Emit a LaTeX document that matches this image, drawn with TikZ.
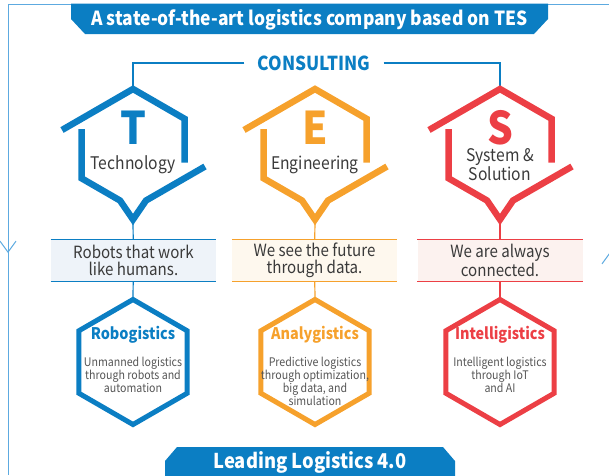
\documentclass[tikz,border=0pt]{standalone}
\usepackage{fontspec}
\setmainfont{Noto Sans CJK KR}[FakeStretch=0.9]
\usetikzlibrary{positioning,arrows.meta}
\definecolor{tesblue}{HTML}{0B7EC3}
\definecolor{tesorange}{HTML}{F6A12C}
\definecolor{tesred}{HTML}{EC3F45}
\definecolor{framecol}{HTML}{5DAAE0}
\definecolor{txt}{HTML}{3A3A3A}
\definecolor{bodytxt}{HTML}{555555}
\definecolor{fillblue}{HTML}{EEF3F9}
\definecolor{fillorange}{HTML}{FEF8EE}
\definecolor{fillred}{HTML}{FCF2EF}

\begin{document}
\begin{tikzpicture}[x=1pt,y=-1pt,
  frame/.style={draw=framecol,line width=1pt},
  roof/.style={line width=6.5pt,line join=miter,miter limit=10},
  hexb/.style={line width=5pt,line join=miter},
  link/.style={line width=1.2pt},
  title/.style={text=white,font=\fontsize{19.4}{21}\bfseries\selectfont,inner sep=0pt},
  letter/.style={font=\fontsize{45}{45}\bfseries\selectfont,inner sep=0pt,text height=33pt,text depth=0pt},
  label/.style={text=txt,font=\fontsize{17.4}{17}\selectfont,align=center,inner sep=0pt},
  box/.style={minimum width=165pt,minimum height=42pt,align=center,text=txt,font=\fontsize{16.8}{17}\selectfont,inner sep=0pt},
  hexhead/.style={font=\fontsize{16}{17}\bfseries\selectfont,inner sep=0pt},
  body/.style={text=bodytxt,font=\fontsize{11.8}{13}\selectfont,align=center,inner sep=0pt}]

\useasboundingbox (0,0) rectangle (609,475);
\clip (0,0) rectangle (609,475);

\draw[frame] (610,475) -- (610,4) -- (8,4) -- (8,475);
\draw[frame,-{Straight Barb[length=11pt,width=16pt]}] (8,200) -- (8,253);
\draw[frame,-{Straight Barb[length=11pt,width=16pt]}] (610,300) -- (610,252);

\fill[tesblue] (71,3.5) -- (548,3.5) -- (548,19) -- (534,34) -- (85,34) -- (71,19) -- cycle;
\node[title] (top) at (309.5,19.5) {A state-of-the-art logistics company based on TES};

\node[text=tesblue,font=\fontsize{19.2}{20}\bfseries\selectfont,inner xsep=13pt,inner ysep=0pt] (c) at (314,63) {CONSULTING};

\coordinate (t1) at (133,148.5);
\coordinate (t2) at (315,148.5);
\coordinate (t3) at (500,148.5);
\coordinate (u1) at (133,89);
\coordinate (u3) at (500,89);
\coordinate (v1) at (133,219.5);
\coordinate (v2) at (315,219.5);
\coordinate (v3) at (500,219.5);

\draw[link,tesblue] (c.west) -| (u1);
\draw[link,tesblue] (c.east) -| (u3);

\draw[roof,tesblue,shift={(t1)}] (-71,-18.5) -- (0,-59.5) -- (51.5,-29.75) -- (51.5,14);
\draw[roof,tesblue,shift={(t1)}] (-51.5,-19.5) -- (-51.5,29.75) -- (-13,52) -- (0,71) -- (13,52) -- (72,18);
\draw[roof,tesorange,shift={(t2)}] (-71,-18.5) -- (0,-59.5) -- (51.5,-29.75) -- (51.5,14);
\draw[roof,tesorange,shift={(t2)}] (-51.5,-19.5) -- (-51.5,29.75) -- (-13,52) -- (0,71) -- (13,52) -- (72,18);
\draw[roof,tesred,shift={(t3)}] (-71,-18.5) -- (0,-59.5) -- (51.5,-29.75) -- (51.5,14);
\draw[roof,tesred,shift={(t3)}] (-51.5,-19.5) -- (-51.5,29.75) -- (-13,52) -- (0,71) -- (13,52) -- (72,18);

\node[letter,text=tesblue] (l1) at (133,128.3) {T};
\node[letter,text=tesorange] (l2) at (315,128.3) {E};
\node[letter,text=tesred] (l3) at (500,127.5) {S};
\node[label] (n1) at (133,165) {Technology};
\node[label] (n2) at (315,165) {Engineering};
\node[label] (n3) at (500,164.5) {System \&\\Solution};

\node[box,fill=fillblue] (b1) at (133.4,260.5) {Robots that work\\like humans.};
\node[box,fill=fillorange] (b2) at (314.5,260.5) {We see the future\\through data.};
\node[box,fill=fillred] (b3) at (500,260.5) {We are always\\connected.};
\draw[link,tesblue] (b1.north west) -- (b1.north east) (b1.south west) -- (b1.south east);
\draw[link,tesorange] (b2.north west) -- (b2.north east) (b2.south west) -- (b2.south east);
\draw[link,tesred] (b3.north west) -- (b3.north east) (b3.south west) -- (b3.south east);

\coordinate (h1) at (133,362);
\coordinate (h2) at (315,362);
\coordinate (h3) at (500,362);
\coordinate (d1) at (133,299.5);
\coordinate (d2) at (315,299.5);
\coordinate (d3) at (500,299.5);

\draw[link,tesblue] (v1) -- (b1) -- (d1);
\draw[link,tesorange] (v2) -- (b2) -- (d2);
\draw[link,tesred] (v3) -- (b3) -- (d3);

\draw[hexb,tesblue,shift={(h1)}] (0,-62.5) -- (54.1,-31.25) -- (54.1,31.25) -- (0,62.5) -- (-54.1,31.25) -- (-54.1,-31.25) -- cycle;
\draw[hexb,tesorange,shift={(h2)}] (0,-62.5) -- (54.1,-31.25) -- (54.1,31.25) -- (0,62.5) -- (-54.1,31.25) -- (-54.1,-31.25) -- cycle;
\draw[hexb,tesred,shift={(h3)}] (0,-62.5) -- (54.1,-31.25) -- (54.1,31.25) -- (0,62.5) -- (-54.1,31.25) -- (-54.1,-31.25) -- cycle;

\node[hexhead,text=tesblue] (r1) at (133,335) {Robogistics};
\node[hexhead,text=tesorange] (r2) at (315,335) {Analygistics};
\node[hexhead,text=tesred] (r3) at (500,335) {Intelligistics};
\node[body] (s1) [below=13pt of r1] {Unmanned logistics\\through robots and\\automation};
\node[body] (s2) [below=13pt of r2] {Predictive logistics\\through optimization,\\big data, and\\simulation};
\node[body] (s3) [below=13pt of r3] {Intelligent logistics\\through IoT\\and AI};

\fill[tesblue] (165,461) -- (177,447) -- (443,447) -- (455,461) -- (455,476) -- (165,476) -- cycle;
\node[title,font=\fontsize{20.4}{21}\bfseries\selectfont] (bottom) at (310,462) {Leading Logistics 4.0};

\end{tikzpicture}
\end{document}
